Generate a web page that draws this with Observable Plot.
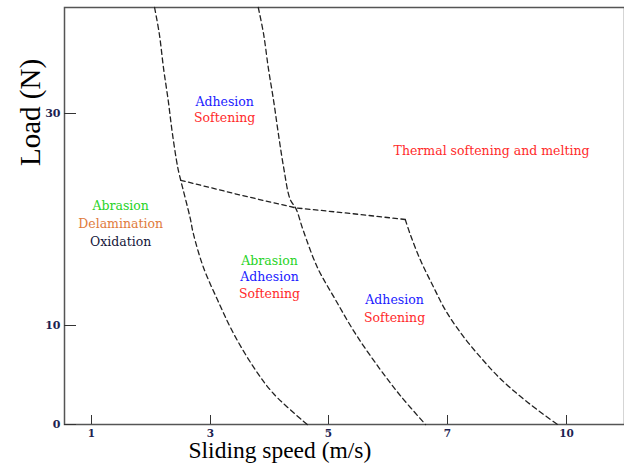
<!DOCTYPE html>
<html>
<head>
<meta charset="utf-8">
<script src="https://cdn.jsdelivr.net/npm/d3@7"></script>
<script src="https://cdn.jsdelivr.net/npm/@observablehq/plot@0.6"></script>
<style>
  html, body { margin: 0; padding: 0; background: #fff; }
  #chart svg { display: block; }
</style>
</head>
<body>
<div id="chart"></div>
<script>
// Tick labels (equally spaced on the original axis)
const xTicks = [1, 3, 5, 7, 10];
const yTicks = [0, 10, 30];

// Boundary curves: sliding speed (m/s) vs load (N)
const curveASpeed = [2.06, 2.14, 2.21, 2.29, 2.36, 2.45, 2.50, 2.66, 2.71, 2.88, 3.12, 3.39, 3.73, 4.07, 4.64];
const curveALoad  = [40.0, 37.5, 34.3, 31.2, 28.1, 24.9, 23.7, 20.1, 18.7, 15.5, 12.4, 9.2, 5.8, 3.1, 0];

const curveBSpeed = [3.81, 3.90, 3.98, 4.07, 4.15, 4.24, 4.35, 4.45, 4.57, 4.81, 5.12, 5.45, 5.84, 6.21, 6.63];
const curveBLoad  = [40.0, 37.5, 34.3, 31.2, 28.1, 24.9, 21.9, 21.0, 19.0, 15.5, 12.4, 9.2, 5.8, 2.9, 0];

const transSpeed = [2.50, 3.51, 4.44, 5.32, 6.29];
const transLoad  = [23.7, 22.3, 21.1, 20.6, 20.0];

const curveCSpeed = [6.29, 6.38, 6.55, 6.75, 6.97, 7.38, 7.83, 8.34, 8.97, 9.77];
const curveCLoad  = [20.0, 18.5, 16.1, 13.8, 11.4, 9.0, 6.8, 4.6, 2.4, 0];

// Region labels
const labelText  = ["Adhesion", "Softening",
                    "Abrasion", "Delamination", "Oxidation",
                    "Abrasion", "Adhesion", "Softening",
                    "Adhesion", "Softening",
                    "Thermal softening and melting"];
const labelSpeed = [3.24, 3.24, 1.49, 1.49, 1.49, 4.00, 4.00, 4.00, 6.11, 6.11, 8.11];
const labelLoad  = [31.1, 29.6, 21.3, 19.6, 17.9, 16.1, 14.6, 13.0, 12.4, 10.7, 26.5];
const labelColor = ["#1a1aff", "#ff2a2a",
                    "#27d327", "#e07b3c", "#15163a",
                    "#27d327", "#1a1aff", "#ff2a2a",
                    "#1a1aff", "#ff2a2a",
                    "#ff2a2a"];

const toRows = (xs, ys) => xs.map((x, i) => ({speed: x, load: ys[i]}));
const labels = labelText.map((t, i) => ({text: t, speed: labelSpeed[i], load: labelLoad[i], color: labelColor[i]}));

const dash = {stroke: "#222", strokeWidth: 1.3, strokeDasharray: "5,3.5", curve: "catmull-rom"};

const chart = Plot.plot({
  width: 624,
  height: 468,
  marginLeft: 64,
  marginTop: 7,
  marginRight: 0,
  marginBottom: 44,
  style: {background: "#fff"},
  x: {type: "linear", domain: xTicks, range: [91, 210, 328, 447, 566]},
  y: {type: "linear", domain: yTicks, range: [424, 325, 113]},
  marks: [
    Plot.frame({stroke: "#555", strokeWidth: 1.5}),
    // inward tick marks
    Plot.axisX(xTicks, {tickSize: -9, tickFormat: () => "", stroke: "#333", label: null}),
    Plot.axisY(yTicks, {tickSize: -12, tickFormat: () => "", stroke: "#333", label: null}),
    // tick labels
    Plot.axisX(xTicks, {tickSize: 0, tickPadding: 5, label: null, fontSize: 10.5, fontWeight: "bold",
      fontFamily: "DejaVu Serif", fill: "#1c2250", tickFormat: d => String(d)}),
    Plot.axisY(yTicks, {tickSize: 0, tickPadding: 4, label: null, fontSize: 11, fontWeight: "bold",
      fontFamily: "DejaVu Serif", fill: "#1c2250", tickFormat: d => String(d)}),
    // boundaries
    Plot.line(toRows(curveASpeed, curveALoad), {x: "speed", y: "load", ...dash}),
    Plot.line(toRows(curveBSpeed, curveBLoad), {x: "speed", y: "load", ...dash}),
    Plot.line(toRows(curveCSpeed, curveCLoad), {x: "speed", y: "load", ...dash}),
    Plot.line(toRows(transSpeed, transLoad), {x: "speed", y: "load", ...dash, strokeDasharray: "4.5,3.5", curve: "linear"}),
    // region labels
    Plot.text(labels, {x: "speed", y: "load", text: "text", fill: "color",
      fontFamily: "DejaVu Serif", fontSize: 12.5, textAnchor: "middle"}),
    // axis titles
    Plot.text(["Sliding speed (m/s)"], {frameAnchor: "bottom-left", dx: 124, dy: 33, textAnchor: "start",
      fontFamily: "Liberation Serif", fontSize: 23.5, fill: "#000", text: d => d}),
    Plot.text(["Load (N)"], {frameAnchor: "left", dx: -34, dy: -50, rotate: -90,
      fontFamily: "Liberation Serif", fontSize: 29, fill: "#000", text: d => d})
  ]
});
document.getElementById("chart").appendChild(chart);
</script>
</body>
</html>
